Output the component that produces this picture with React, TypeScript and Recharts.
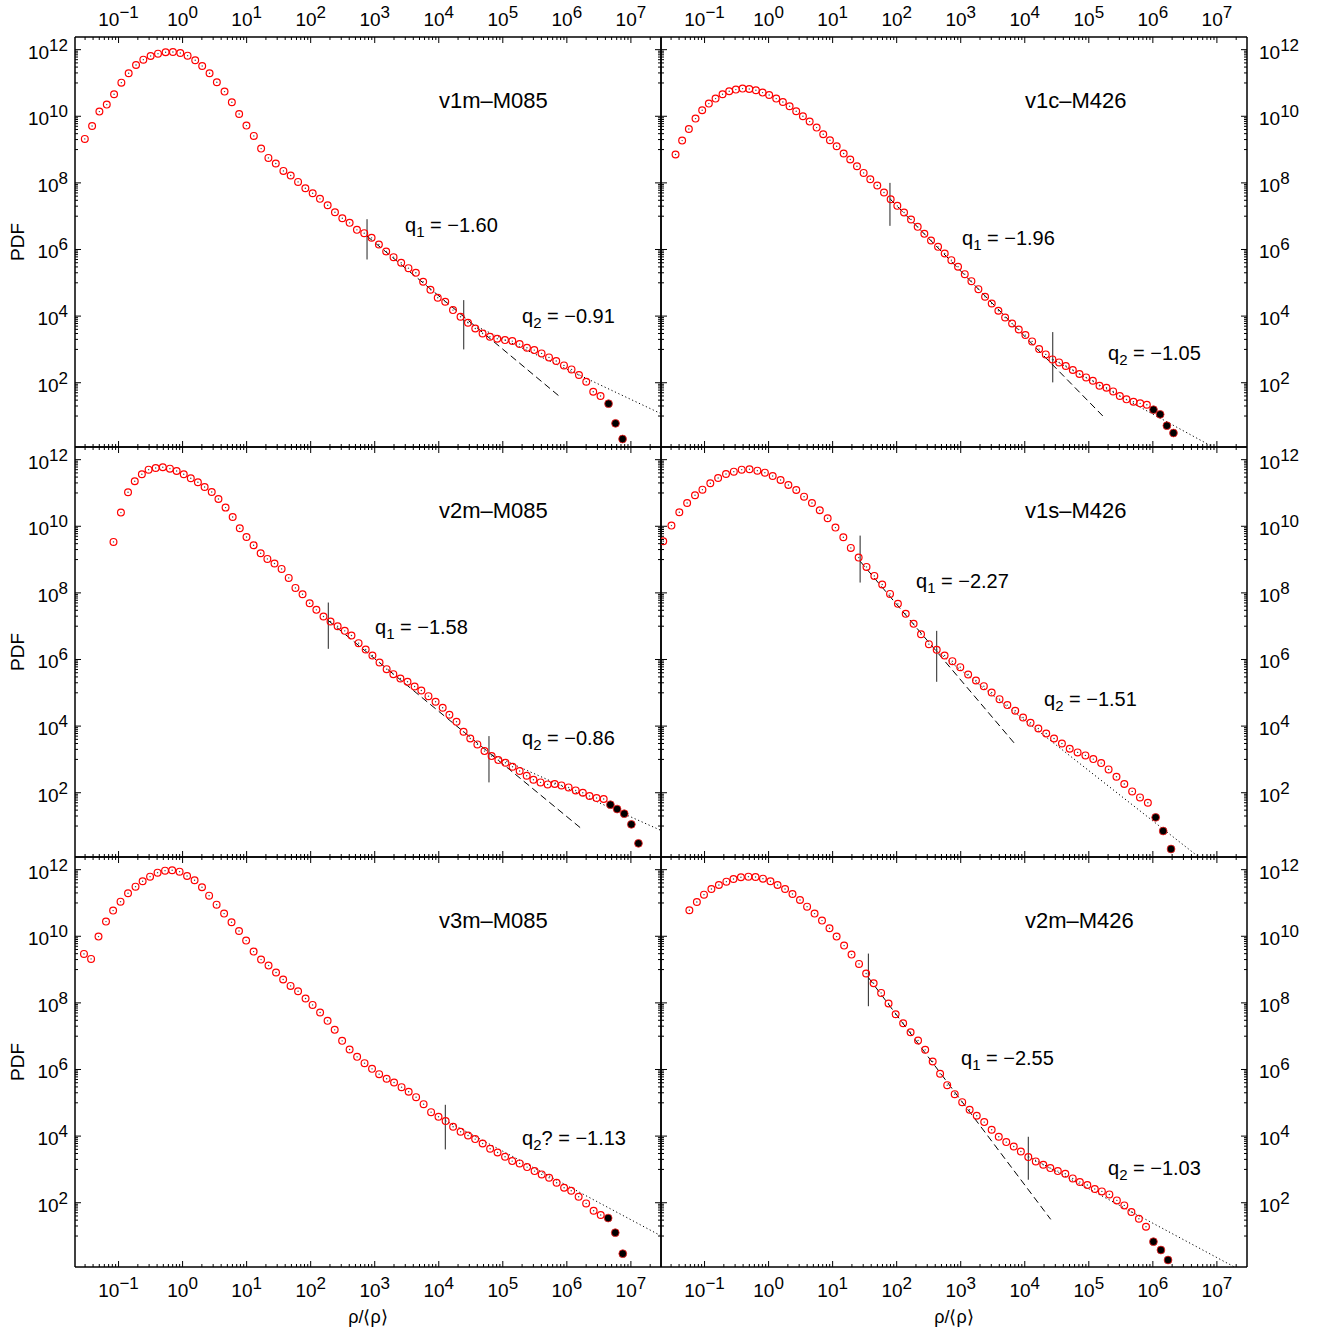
import React from 'react';
import { ScatterChart, Scatter, XAxis, YAxis, ReferenceLine } from 'recharts';

const FONT = '"Liberation Sans", Arial, Helvetica, sans-serif';

// ---------------- data: log10(rho/<rho>) and log10(PDF) ----------------
const v1m_M085_logRho = [-1.527,-1.413,-1.299,-1.184,-1.070,-0.956,-0.842,-0.727,-0.613,-0.499,-0.384,-0.265,-0.151,-0.036,0.078,0.197,0.306,0.421,0.535,0.655,0.769,0.883,0.997,1.112,1.226,1.340,1.455,1.574,1.688,1.803,1.917,2.031,2.145,2.265,2.379,2.494,2.608,2.722,2.836,2.951,3.065,3.179,3.294,3.413,3.527,3.642,3.756,3.870,3.984,4.101,4.222,4.340,4.456,4.570,4.684,4.799,4.913,5.034,5.148,5.262,5.377,5.491,5.605,5.721,5.834,5.955,6.073,6.189,6.303,6.412,6.526];
const v1m_M085_logPdf = [9.32,9.71,10.14,10.35,10.66,11.01,11.29,11.54,11.70,11.81,11.88,11.92,11.93,11.90,11.82,11.68,11.51,11.29,11.02,10.74,10.42,10.07,9.72,9.41,9.03,8.75,8.58,8.36,8.22,8.03,7.84,7.69,7.52,7.33,7.12,6.94,6.80,6.59,6.49,6.35,6.15,5.94,5.77,5.60,5.44,5.30,5.03,4.79,4.55,4.43,4.18,3.98,3.80,3.63,3.48,3.38,3.32,3.28,3.25,3.16,3.05,2.98,2.88,2.76,2.65,2.52,2.40,2.23,2.03,1.73,1.60];
const v1m_M085_tailLogRho = [6.651,6.760,6.870];
const v1m_M085_tailLogPdf = [1.37,0.78,0.31];
const v1m_M085_dashed = [2.88,6.40,5.894,1.575];
const v1m_M085_dotted = [4.39,3.87,7.46,1.08];
const v1m_M085_marks = [[2.88,5.70,6.91],[4.39,3.00,4.48]];

const v1c_M426_logRho = [-1.453,-1.350,-1.245,-1.141,-1.037,-0.933,-0.828,-0.719,-0.615,-0.511,-0.406,-0.302,-0.198,-0.094,0.009,0.119,0.223,0.328,0.431,0.536,0.641,0.750,0.853,0.958,1.063,1.172,1.275,1.380,1.484,1.588,1.697,1.802,1.906,2.010,2.115,2.224,2.328,2.432,2.536,2.646,2.750,2.854,2.958,3.063,3.167,3.276,3.380,3.484,3.588,3.693,3.802,3.906,4.010,4.115,4.224,4.328,4.432,4.536,4.641,4.750,4.854,4.958,5.063,5.167,5.276,5.380,5.484,5.588,5.697,5.802,5.906];
const v1c_M426_logPdf = [8.85,9.27,9.62,9.93,10.18,10.38,10.53,10.66,10.75,10.80,10.83,10.82,10.78,10.71,10.64,10.53,10.43,10.30,10.15,10.00,9.84,9.66,9.46,9.28,9.10,8.88,8.70,8.50,8.30,8.11,7.92,7.71,7.51,7.31,7.11,6.90,6.68,6.47,6.27,6.08,5.88,5.68,5.48,5.26,5.05,4.81,4.58,4.38,4.16,3.96,3.78,3.60,3.43,3.24,3.01,2.85,2.70,2.61,2.50,2.38,2.26,2.16,2.06,1.91,1.85,1.74,1.60,1.50,1.43,1.38,1.34];
const v1c_M426_tailLogRho = [6.010,6.114,6.219,6.322];
const v1c_M426_tailLogPdf = [1.19,1.05,0.71,0.49];
const v1c_M426_dashed = [1.895,7.52,5.255,0.93];
const v1c_M426_dotted = [4.437,2.70,6.92,0.09];
const v1c_M426_marks = [[1.895,6.71,8.00],[4.437,2.01,3.52]];

const v2m_M085_logRho = [-1.079,-0.963,-0.852,-0.747,-0.636,-0.531,-0.420,-0.309,-0.198,-0.093,0.018,0.128,0.239,0.344,0.455,0.560,0.671,0.782,0.893,0.998,1.109,1.219,1.324,1.435,1.546,1.657,1.762,1.873,1.984,2.089,2.200,2.310,2.421,2.532,2.637,2.748,2.859,2.964,3.075,3.186,3.291,3.401,3.512,3.623,3.728,3.839,3.950,4.061,4.166,4.277,4.387,4.492,4.603,4.714,4.825,4.930,5.041,5.152,5.263,5.373,5.478,5.589,5.700,5.811,5.916,6.027,6.138,6.249,6.354,6.464,6.575];
const v2m_M085_logPdf = [9.53,10.41,11.02,11.35,11.56,11.70,11.75,11.77,11.73,11.66,11.56,11.44,11.32,11.18,11.03,10.82,10.56,10.28,9.94,9.68,9.43,9.19,9.02,8.88,8.72,8.45,8.15,7.96,7.69,7.49,7.29,7.14,7.00,6.86,6.72,6.49,6.30,6.12,5.91,5.71,5.56,5.43,5.33,5.19,5.07,4.90,4.73,4.55,4.34,4.13,3.83,3.63,3.45,3.25,3.10,2.98,2.90,2.78,2.65,2.51,2.39,2.31,2.25,2.26,2.22,2.16,2.07,2.00,1.90,1.84,1.81];
const v2m_M085_tailLogRho = [6.680,6.785,6.896,7.007,7.118];
const v2m_M085_tailLogPdf = [1.64,1.51,1.37,1.05,0.48];
const v2m_M085_dashed = [2.275,7.17,6.254,0.88];
const v2m_M085_dotted = [4.784,3.18,7.456,0.88];
const v2m_M085_marks = [[2.275,6.32,7.71],[4.784,2.31,3.70]];

const v1s_M426_logRho = [-1.645,-1.517,-1.394,-1.272,-1.149,-1.033,-0.910,-0.788,-0.665,-0.543,-0.420,-0.298,-0.175,-0.058,0.064,0.187,0.309,0.432,0.554,0.677,0.799,0.922,1.044,1.167,1.284,1.406,1.529,1.651,1.774,1.896,2.019,2.141,2.264,2.380,2.503,2.625,2.748,2.870,2.993,3.116,3.238,3.361,3.483,3.606,3.728,3.851,3.973,4.090,4.212,4.335,4.457,4.580,4.702,4.825,4.947,5.070,5.193,5.309,5.432,5.554,5.677,5.799,5.922];
const v1s_M426_logPdf = [9.55,10.02,10.42,10.70,10.93,11.10,11.29,11.45,11.57,11.64,11.70,11.71,11.67,11.61,11.51,11.39,11.24,11.09,10.89,10.70,10.48,10.24,9.96,9.67,9.35,9.06,8.78,8.51,8.25,7.97,7.67,7.37,7.07,6.76,6.46,6.29,6.12,5.95,5.77,5.55,5.37,5.20,5.01,4.81,4.63,4.46,4.26,4.10,3.93,3.78,3.63,3.48,3.32,3.21,3.12,3.01,2.89,2.70,2.48,2.26,2.04,1.86,1.70];
const v1s_M426_tailLogRho = [6.044,6.161,6.284];
const v1s_M426_tailLogPdf = [1.26,0.85,0.31];
const v1s_M426_dashed = [1.429,8.95,3.862,3.43];
const v1s_M426_dotted = [2.625,6.25,6.71,0.08];
const v1s_M426_marks = [[1.429,8.31,9.72],[2.625,5.33,6.86]];

const v3m_M085_logRho = [-1.540,-1.429,-1.313,-1.196,-1.085,-0.969,-0.852,-0.735,-0.624,-0.508,-0.391,-0.274,-0.163,-0.047,0.070,0.187,0.303,0.414,0.531,0.648,0.764,0.881,0.992,1.109,1.225,1.342,1.459,1.570,1.686,1.803,1.920,2.030,2.147,2.264,2.375,2.491,2.608,2.725,2.841,2.958,3.069,3.186,3.302,3.419,3.530,3.646,3.763,3.880,3.996,4.107,4.224,4.341,4.457,4.568,4.685,4.802,4.918,5.035,5.146,5.263,5.379,5.496,5.607,5.723,5.840,5.957,6.068,6.184,6.301,6.418,6.529];
const v3m_M085_logPdf = [9.47,9.32,9.99,10.44,10.77,11.04,11.29,11.49,11.65,11.79,11.91,11.97,11.98,11.94,11.81,11.68,11.47,11.22,10.95,10.68,10.42,10.16,9.87,9.54,9.30,9.12,8.91,8.70,8.51,8.35,8.13,7.94,7.71,7.46,7.19,6.86,6.60,6.38,6.19,6.02,5.86,5.72,5.61,5.47,5.33,5.17,4.96,4.72,4.58,4.45,4.28,4.13,4.02,3.91,3.78,3.62,3.51,3.38,3.25,3.18,3.07,2.95,2.85,2.75,2.60,2.45,2.36,2.18,1.98,1.76,1.63];
const v3m_M085_tailLogRho = [6.645,6.756,6.873];
const v3m_M085_tailLogPdf = [1.54,1.10,0.47];
const v3m_M085_dotted = [4.102,4.47,7.456,1.02];
const v3m_M085_marks = [[4.102,3.60,4.94]];

const v2m_M426_logRho = [-1.237,-1.120,-1.009,-0.893,-0.776,-0.659,-0.548,-0.432,-0.315,-0.204,-0.088,0.029,0.140,0.257,0.373,0.490,0.601,0.718,0.834,0.951,1.062,1.179,1.295,1.412,1.523,1.640,1.757,1.873,1.984,2.101,2.217,2.334,2.445,2.562,2.678,2.789,2.906,3.023,3.139,3.250,3.367,3.483,3.594,3.711,3.828,3.939,4.055,4.172,4.289,4.399,4.516,4.633,4.749,4.860,4.977,5.093,5.204,5.321,5.438,5.554,5.665,5.782,5.893];
const v2m_M426_logPdf = [10.78,11.03,11.25,11.42,11.54,11.64,11.72,11.77,11.79,11.78,11.73,11.65,11.54,11.42,11.27,11.09,10.89,10.68,10.47,10.24,9.99,9.72,9.45,9.17,8.88,8.59,8.30,7.98,7.66,7.39,7.12,6.87,6.59,6.24,5.87,5.53,5.26,5.02,4.79,4.61,4.42,4.19,3.98,3.82,3.69,3.54,3.37,3.24,3.14,3.04,2.95,2.87,2.73,2.62,2.53,2.41,2.34,2.25,2.07,1.92,1.72,1.52,1.28];
const v2m_M426_tailLogRho = [6.009,6.126,6.237];
const v2m_M426_tailLogPdf = [0.83,0.58,0.28];
const v2m_M426_dashed = [1.558,8.76,4.405,1.50];
const v2m_M426_dotted = [4.055,3.39,7.264,0.08];
const v2m_M426_marks = [[1.558,7.90,9.48],[4.055,2.69,3.98]];

// axis ranges and tick definitions (exponents)
const X_DOMAIN_EXP = [-1.68, 7.47];
const Y_DOMAIN_EXP = [0.07, 12.38];
const X_MAJOR_EXP = [-1, 0, 1, 2, 3, 4, 5, 6, 7];
const X_MINOR_EXP = [-2, -1, 0, 1, 2, 3, 4, 5, 6, 7];
const X_MINOR_MULT = [2, 3, 4, 5, 6, 7, 8, 9];
const Y_MAJOR_EXP = [0, 2, 4, 6, 8, 10, 12];
const Y_MINOR_EXP = [1, 3, 5, 7, 9, 11];
const Y_MINOR_MULT = [1, 2, 3, 4, 5, 6, 7, 8, 9];

const X_DOMAIN = [Math.pow(10, X_DOMAIN_EXP[0]), Math.pow(10, X_DOMAIN_EXP[1])];
const Y_DOMAIN = [Math.pow(10, Y_DOMAIN_EXP[0]), Math.pow(10, Y_DOMAIN_EXP[1])];

const inRange = (v: number, d: number[]) => v >= d[0] && v <= d[1];
const X_TICKS = [
  ...X_MAJOR_EXP.map((e) => Math.pow(10, e)),
  ...X_MINOR_EXP.flatMap((e) => X_MINOR_MULT.map((k) => k * Math.pow(10, e))),
].filter((v) => inRange(v, X_DOMAIN)).sort((a, b) => a - b);
const Y_TICKS = [
  ...Y_MAJOR_EXP.map((e) => Math.pow(10, e)),
  ...Y_MINOR_EXP.flatMap((e) => Y_MINOR_MULT.map((k) => k * Math.pow(10, e))),
].filter((v) => inRange(v, Y_DOMAIN)).sort((a, b) => a - b);

const PANEL_DEFS = [
  { name: 'v1m\u2013M085', lx: v1m_M085_logRho, ly: v1m_M085_logPdf, tx: v1m_M085_tailLogRho, ty: v1m_M085_tailLogPdf, dashed: v1m_M085_dashed, dotted: v1m_M085_dotted, marks: v1m_M085_marks, q: [['1', ' = \u22121.60'], ['2', ' = \u22120.91']] },
  { name: 'v1c\u2013M426', lx: v1c_M426_logRho, ly: v1c_M426_logPdf, tx: v1c_M426_tailLogRho, ty: v1c_M426_tailLogPdf, dashed: v1c_M426_dashed, dotted: v1c_M426_dotted, marks: v1c_M426_marks, q: [['1', ' = \u22121.96'], ['2', ' = \u22121.05']] },
  { name: 'v2m\u2013M085', lx: v2m_M085_logRho, ly: v2m_M085_logPdf, tx: v2m_M085_tailLogRho, ty: v2m_M085_tailLogPdf, dashed: v2m_M085_dashed, dotted: v2m_M085_dotted, marks: v2m_M085_marks, q: [['1', ' = \u22121.58'], ['2', ' = \u22120.86']] },
  { name: 'v1s\u2013M426', lx: v1s_M426_logRho, ly: v1s_M426_logPdf, tx: v1s_M426_tailLogRho, ty: v1s_M426_tailLogPdf, dashed: v1s_M426_dashed, dotted: v1s_M426_dotted, marks: v1s_M426_marks, q: [['1', ' = \u22122.27'], ['2', ' = \u22121.51']] },
  { name: 'v3m\u2013M085', lx: v3m_M085_logRho, ly: v3m_M085_logPdf, tx: v3m_M085_tailLogRho, ty: v3m_M085_tailLogPdf, dashed: null, dotted: v3m_M085_dotted, marks: v3m_M085_marks, q: [['2', '? = \u22121.13']] },
  { name: 'v2m\u2013M426', lx: v2m_M426_logRho, ly: v2m_M426_logPdf, tx: v2m_M426_tailLogRho, ty: v2m_M426_tailLogPdf, dashed: v2m_M426_dashed, dotted: v2m_M426_dotted, marks: v2m_M426_marks, q: [['1', ' = \u22122.55'], ['2', ' = \u22121.03']] },
];

// ---------------- layout ----------------
const PLOT_W = 586, PLOT_H = 410, ML = 75, MR = 74, MT = 37, MB = 66;
const CW = ML + PLOT_W + MR, CH = MT + PLOT_H + MB;
const Q_POS = [
  [[330, 195], [447, 286]],
  [[301, 208], [447, 323]],
  [[300, 187], [447, 298]],
  [[255, 141], [383, 259]],
  [[447, 288]],
  [[300, 208], [447, 318]],
];
const TITLE_POS = [364, 71];

const intExp = (v: number): number | null => {
  const e = Math.log10(v);
  const r = Math.round(e);
  return Math.abs(e - r) < 1e-6 ? r : null;
};
const expText = (e: number) => (e < 0 ? '\u2212' + Math.abs(e) : String(e));

const PowLabel = ({ x, y, e, anchor }: any) => (
  <text x={x} y={y} textAnchor={anchor} fontFamily={FONT} fontSize={19} fill="#000">
    10<tspan dy={-8} fontSize={17}>{expText(e)}</tspan>
  </text>
);

const makeTick = (side: string, showLabel: boolean, axis: string) => (props: any) => {
  const { x, y, payload } = props;
  const e = intExp(payload.value);
  const major = e !== null && (axis === 'x' || e % 2 === 0);
  const len = major ? 6 : 3;
  let x2 = x, y2 = y;
  if (side === 'bottom') y2 = y - len;
  if (side === 'top') y2 = y + len;
  if (side === 'left') x2 = x + len;
  if (side === 'right') x2 = x - len;
  let label = null;
  if (showLabel && major && e !== null) {
    if (side === 'bottom') label = <PowLabel x={x} y={y + 30} e={e} anchor="middle" />;
    if (side === 'top') label = <PowLabel x={x} y={y - 11} e={e} anchor="middle" />;
    if (side === 'left') label = <PowLabel x={x - 7} y={y + 9} e={e} anchor="end" />;
    if (side === 'right') label = <PowLabel x={x + 12} y={y + 9} e={e} anchor="start" />;
  }
  return (
    <g>
      <line x1={x} y1={y} x2={x2} y2={y2} stroke="#000" strokeWidth={1} />
      {label}
    </g>
  );
};

const OpenDot = (p: any) => (
  <g>
    <circle cx={p.cx} cy={p.cy} r={3.4} fill="none" stroke="#ff0000" strokeWidth={1.2} />
    <circle cx={p.cx} cy={p.cy} r={0.7} fill="#444" />
  </g>
);
const FilledDot = (p: any) => (
  <circle cx={p.cx} cy={p.cy} r={3.9} fill="#000" stroke="#ff2020" strokeWidth={0.8} />
);

const pt = (lx: number, ly: number) => ({ x: Math.pow(10, lx), y: Math.pow(10, ly) });

function PanelChart({ def, row, col }: any) {
  const open = def.lx.map((v: number, i: number) => pt(v, def.ly[i]));
  const tail = def.tx.map((v: number, i: number) => pt(v, def.ty[i]));
  const axisLine = { stroke: '#000', strokeWidth: 1.5 };
  return (
    <div style={{ position: 'absolute', left: col * PLOT_W, top: row * PLOT_H, width: CW, height: CH }}>
      <ScatterChart width={CW} height={CH} margin={{ top: 0, right: 0, bottom: 0, left: 0 }}>
        <XAxis xAxisId="b" orientation="bottom" type="number" dataKey="x" scale="log" domain={X_DOMAIN} allowDataOverflow ticks={X_TICKS} interval={0} tickLine={false} tickSize={0} tickMargin={0} axisLine={axisLine} height={MB} tick={makeTick('bottom', row === 2, 'x')} />
        <XAxis xAxisId="t" orientation="top" type="number" dataKey="x" scale="log" domain={X_DOMAIN} allowDataOverflow ticks={X_TICKS} interval={0} tickLine={false} tickSize={0} tickMargin={0} axisLine={axisLine} height={MT} tick={makeTick('top', row === 0, 'x')} />
        <YAxis yAxisId="l" orientation="left" type="number" dataKey="y" scale="log" domain={Y_DOMAIN} allowDataOverflow ticks={Y_TICKS} interval={0} tickLine={false} tickSize={0} tickMargin={0} axisLine={axisLine} width={ML} tick={makeTick('left', col === 0, 'y')} />
        <YAxis yAxisId="r" orientation="right" type="number" dataKey="y" scale="log" domain={Y_DOMAIN} allowDataOverflow ticks={Y_TICKS} interval={0} tickLine={false} tickSize={0} tickMargin={0} axisLine={axisLine} width={MR} tick={makeTick('right', col === 1, 'y')} />
        {def.dashed && (
          <ReferenceLine xAxisId="b" yAxisId="l" ifOverflow="hidden" segment={[pt(def.dashed[0], def.dashed[1]), pt(def.dashed[2], def.dashed[3])]} stroke="#000" strokeWidth={1} strokeDasharray="7 4" />
        )}
        {def.dotted && (
          <ReferenceLine xAxisId="b" yAxisId="l" ifOverflow="hidden" segment={[pt(def.dotted[0], def.dotted[1]), pt(def.dotted[2], def.dotted[3])]} stroke="#000" strokeWidth={1} strokeDasharray="1.2 2.6" />
        )}
        {def.marks.map((m: number[], i: number) => (
          <ReferenceLine key={'m' + i} xAxisId="b" yAxisId="l" ifOverflow="hidden" segment={[pt(m[0], m[1]), pt(m[0], m[2])]} stroke="#222" strokeWidth={1} />
        ))}
        <Scatter xAxisId="b" yAxisId="l" data={open} shape={OpenDot} isAnimationActive={false} />
        <Scatter xAxisId="b" yAxisId="l" data={tail} shape={FilledDot} isAnimationActive={false} />
      </ScatterChart>
    </div>
  );
}

export default function App() {
  return (
    <div style={{ position: 'absolute', left: 0, top: 0, width: 1321, height: 1333, background: '#fff', overflow: 'hidden' }}>
      {PANEL_DEFS.map((def, i) => (
        <PanelChart key={i} def={def} row={Math.floor(i / 2)} col={i % 2} />
      ))}
      <svg width={1321} height={1333} style={{ position: 'absolute', left: 0, top: 0, pointerEvents: 'none' }}>
        {PANEL_DEFS.map((def, i) => {
          const ox = ML + (i % 2) * PLOT_W;
          const oy = MT + Math.floor(i / 2) * PLOT_H;
          return (
            <g key={i} fontFamily={FONT} fill="#000">
              <text x={ox + TITLE_POS[0]} y={oy + TITLE_POS[1]} fontSize={22}>{def.name}</text>
              {def.q.map((q, j) => (
                <text key={j} x={ox + Q_POS[i][j][0]} y={oy + Q_POS[i][j][1]} fontSize={20}>
                  q<tspan dy={5} fontSize={15}>{q[0]}</tspan><tspan dy={-5}>{q[1]}</tspan>
                </text>
              ))}
            </g>
          );
        })}
        {[0, 1, 2].map((r) => (
          <text key={'pdf' + r} transform={`translate(${ML - 58},${MT + r * PLOT_H + PLOT_H / 2}) rotate(-90)`} textAnchor="middle" dominantBaseline="central" fontFamily={FONT} fontSize={19} fill="#000">PDF</text>
        ))}
        {[0, 1].map((c) => (
          <text key={'xl' + c} x={ML + c * PLOT_W + PLOT_W / 2} y={1323} textAnchor="middle" fontFamily={FONT} fontSize={18} fill="#000">{'\u03c1/\u27e8\u03c1\u27e9'}</text>
        ))}
      </svg>
    </div>
  );
}
